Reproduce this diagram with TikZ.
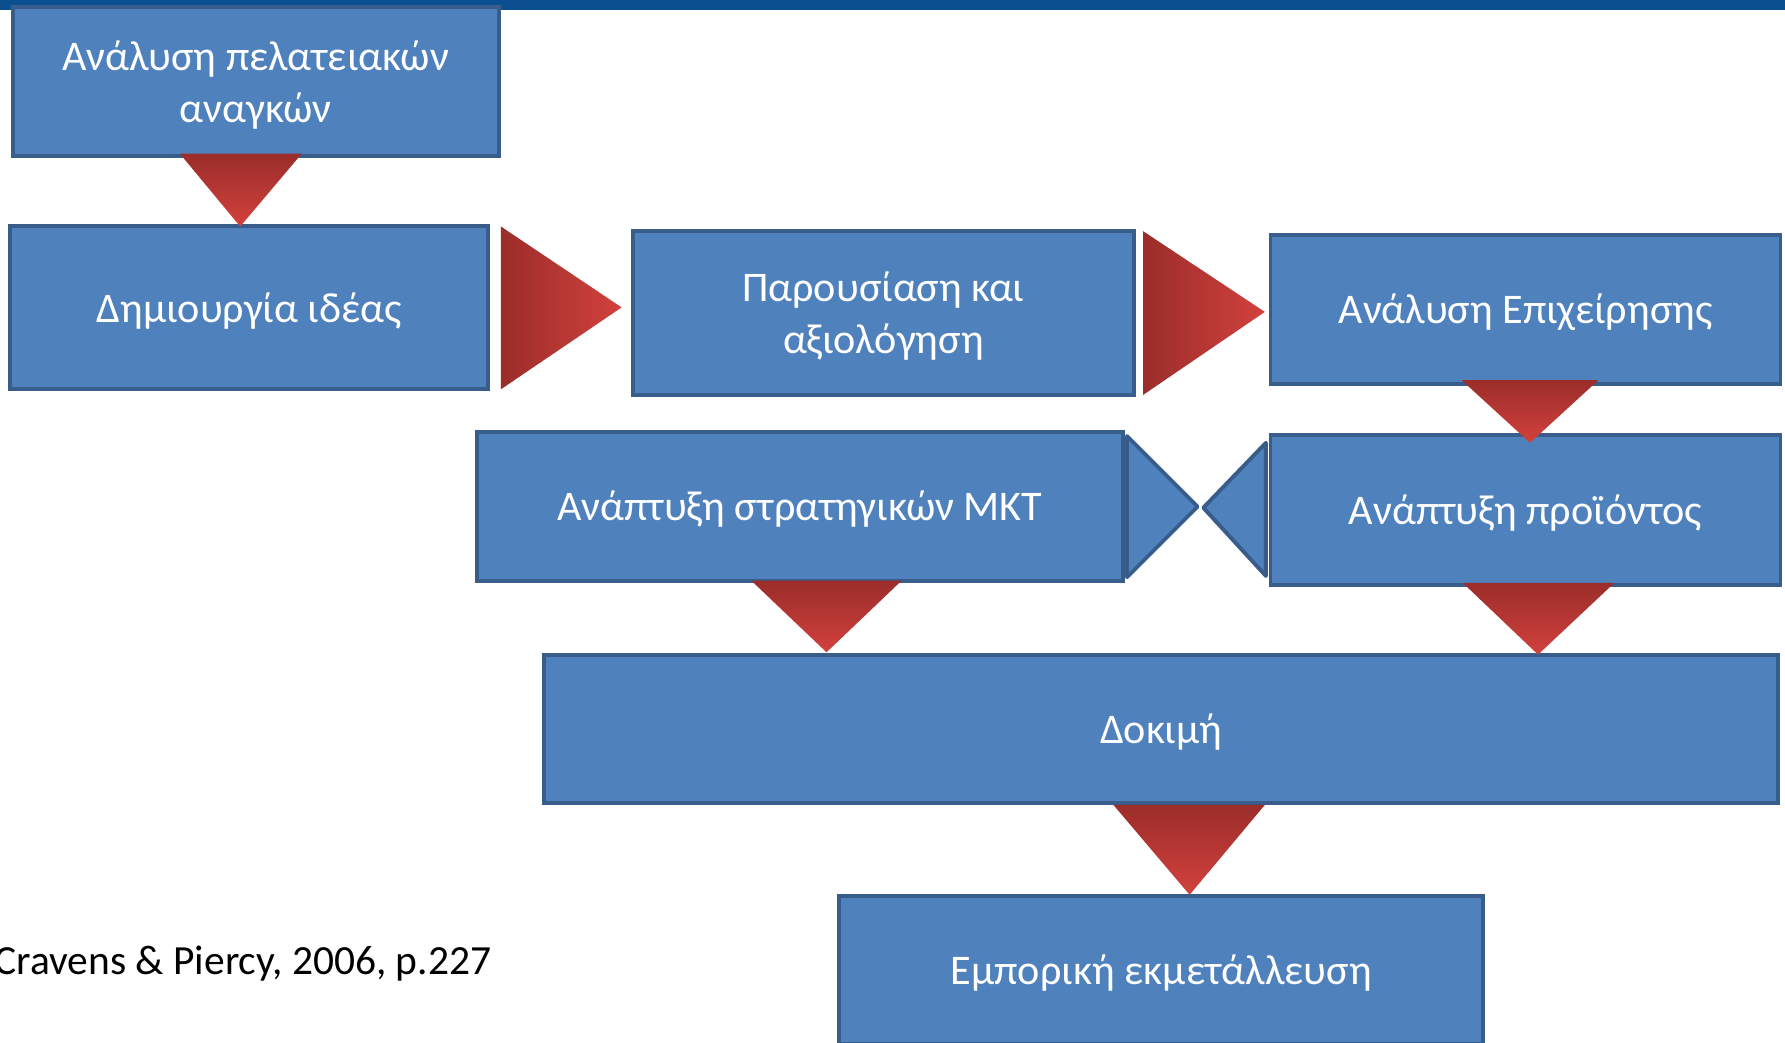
\documentclass[tikz,border=0pt]{standalone}
\usepackage{fontspec}
\setmainfont{Carlito}
\usepackage{xcolor}
\definecolor{boxblue}{HTML}{4F81BD}
\definecolor{boxline}{HTML}{385D8A}
\definecolor{topbar}{HTML}{0B4F91}
\definecolor{reddark}{HTML}{9B2D2A}
\definecolor{redlight}{HTML}{D2413D}

\begin{document}
\begin{tikzpicture}[x=1cm,y=1cm,every node/.style={font=\fontsize{12}{14.8}\selectfont},
  stage/.style={draw=boxline,fill=boxblue,line width=1.1pt,text=white,align=center,inner sep=0pt,text depth=0pt},
  bluetri/.style={draw=boxline,fill=boxblue,line width=1.1pt,line join=round}]
\useasboundingbox (0,0) rectangle (17.85,-10.42);
\fill[topbar] (0,0) rectangle (17.85,-0.1);
\node[stage,minimum width=4.86cm,minimum height=1.49cm] (needs) at (2.556,-0.814) {Ανάλυση πελατειακών\\αναγκών};
\node[stage,minimum width=4.78cm,minimum height=1.63cm] (idea) at (2.493,-3.079) {Δημιουργία ιδέας};
\node[stage,minimum width=5.01cm,minimum height=1.64cm] (screen) at (8.834,-3.131) {Παρουσίαση και\\αξιολόγηση};
\node[stage,minimum width=5.10cm,minimum height=1.49cm] (business) at (15.255,-3.091) {Ανάλυση Επιχείρησης};
\node[stage,minimum width=5.10cm,minimum height=1.50cm] (product) at (15.255,-5.10) {Ανάπτυξη προϊόντος};
\node[stage,minimum width=6.455cm,minimum height=1.49cm] (mkt) at (7.998,-5.061) {Ανάπτυξη στρατηγικών ΜΚΤ};
\node[stage,minimum width=12.34cm,minimum height=1.48cm] (test) at (11.612,-7.286) {Δοκιμή};
\node[stage,minimum width=6.443cm,minimum height=1.48cm] (launch) at (11.612,-9.699) {Εμπορική εκμετάλλευση};
\node[anchor=east,inner sep=0pt,font=\fontsize{11.8}{14}\selectfont] (source) at (4.918,-9.631) {Cravens \& Piercy, 2006, p.227};
\shade[top color=reddark,bottom color=redlight] (1.799,-1.537) -- (3.017,-1.537) -- (2.402,-2.265) -- cycle;
\shade[left color=reddark,right color=redlight] (5.009,-2.265) -- (6.216,-3.074) -- (5.009,-3.893) -- cycle;
\shade[left color=reddark,right color=redlight] (11.43,-2.311) -- (12.648,-3.119) -- (11.43,-3.95) -- cycle;
\shade[top color=reddark,bottom color=redlight] (14.617,-3.802) -- (15.983,-3.802) -- (15.30,-4.428) -- cycle;
\shade[top color=reddark,bottom color=redlight] (7.513,-5.806) -- (9.016,-5.806) -- (8.265,-6.523) -- cycle;
\shade[top color=reddark,bottom color=redlight] (14.628,-5.829) -- (16.143,-5.829) -- (15.38,-6.546) -- cycle;
\shade[top color=reddark,bottom color=redlight] (11.134,-8.049) -- (12.648,-8.049) -- (11.896,-8.948) -- cycle;
\draw[bluetri] (11.27,-4.36) -- (11.976,-5.066) -- (11.27,-5.772) -- cycle;
\draw[bluetri] (12.659,-4.428) -- (12.033,-5.077) -- (12.659,-5.76) -- cycle;
\end{tikzpicture}
\end{document}
